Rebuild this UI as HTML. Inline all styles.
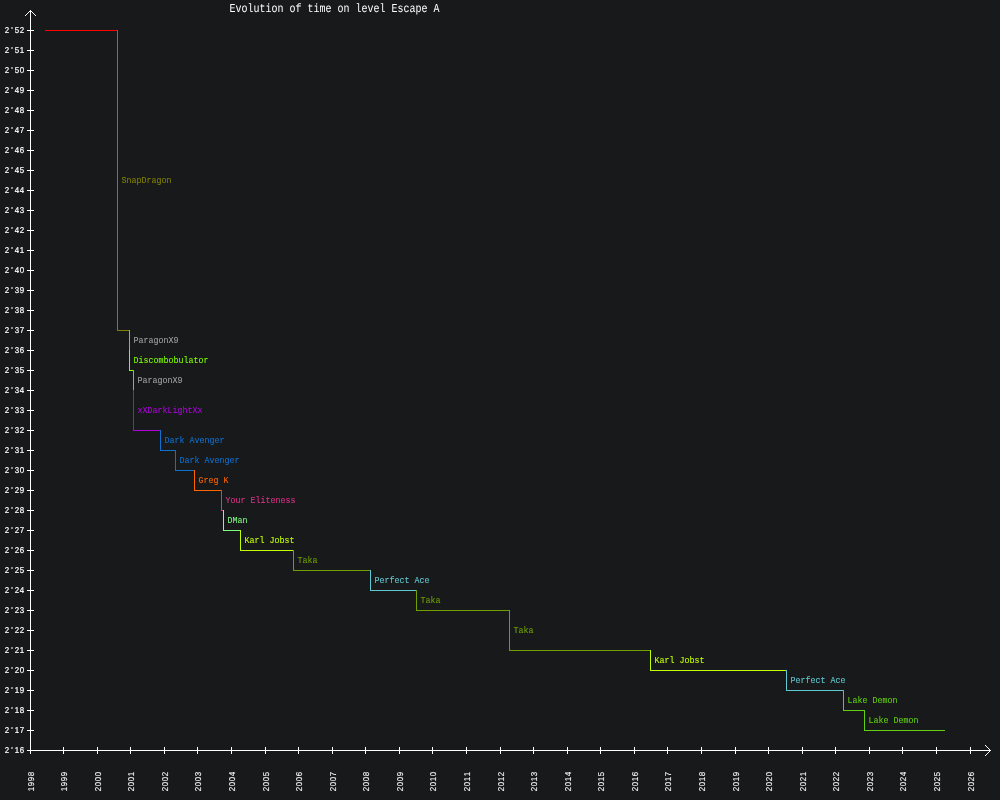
<!DOCTYPE html>
<html lang="en"><head><meta charset="utf-8">
<title>Evolution of time on level Escape A</title>
<style>
html,body{margin:0;padding:0;background:#18191b;}
body{width:1000px;height:800px;overflow:hidden;}
svg{display:block;}
.ln{shape-rendering:crispEdges;}
.s{font-family:"Liberation Mono", "DejaVu Sans Mono", monospace;font-size:9.2px;font-weight:normal;}
.t{font-family:"Liberation Mono", "DejaVu Sans Mono", monospace;font-size:12.1px;font-weight:normal;}
.n{font-family:"Liberation Sans", "DejaVu Sans", sans-serif;font-size:8.5px;text-anchor:middle;}
text{white-space:pre;stroke-width:0.1px;stroke-linejoin:round;}
.t,.n{text-rendering:geometricPrecision;}
.s{text-rendering:auto;}
.t{stroke-width:0px;}
#ylabels text{stroke-width:0.2px;}
</style></head><body>
<svg width="1000" height="800" viewBox="0 0 1000 800">
<rect x="0" y="0" width="1000" height="800" fill="#18191b"/>
<g id="axes">
<rect class="ln" x="30" y="10" width="1" height="741" fill="#fff"/>
<rect class="ln" x="30" y="750" width="961" height="1" fill="#fff"/>
<rect class="ln" x="29" y="11" width="1" height="1" fill="#fff"/>
<rect class="ln" x="31" y="11" width="1" height="1" fill="#fff"/>
<rect class="ln" x="989" y="749" width="1" height="1" fill="#fff"/>
<rect class="ln" x="989" y="751" width="1" height="1" fill="#fff"/>
<rect class="ln" x="28" y="12" width="1" height="1" fill="#fff"/>
<rect class="ln" x="32" y="12" width="1" height="1" fill="#fff"/>
<rect class="ln" x="988" y="748" width="1" height="1" fill="#fff"/>
<rect class="ln" x="988" y="752" width="1" height="1" fill="#fff"/>
<rect class="ln" x="27" y="13" width="1" height="1" fill="#fff"/>
<rect class="ln" x="33" y="13" width="1" height="1" fill="#fff"/>
<rect class="ln" x="987" y="747" width="1" height="1" fill="#fff"/>
<rect class="ln" x="987" y="753" width="1" height="1" fill="#fff"/>
<rect class="ln" x="26" y="14" width="1" height="1" fill="#fff"/>
<rect class="ln" x="34" y="14" width="1" height="1" fill="#fff"/>
<rect class="ln" x="986" y="746" width="1" height="1" fill="#fff"/>
<rect class="ln" x="986" y="754" width="1" height="1" fill="#fff"/>
<rect class="ln" x="25" y="15" width="1" height="1" fill="#fff"/>
<rect class="ln" x="35" y="15" width="1" height="1" fill="#fff"/>
<rect class="ln" x="985" y="745" width="1" height="1" fill="#fff"/>
<rect class="ln" x="985" y="755" width="1" height="1" fill="#fff"/>
<rect class="ln" x="27" y="30" width="7" height="1" fill="#fff"/>
<rect class="ln" x="27" y="50" width="7" height="1" fill="#fff"/>
<rect class="ln" x="27" y="70" width="7" height="1" fill="#fff"/>
<rect class="ln" x="27" y="90" width="7" height="1" fill="#fff"/>
<rect class="ln" x="27" y="110" width="7" height="1" fill="#fff"/>
<rect class="ln" x="27" y="130" width="7" height="1" fill="#fff"/>
<rect class="ln" x="27" y="150" width="7" height="1" fill="#fff"/>
<rect class="ln" x="27" y="170" width="7" height="1" fill="#fff"/>
<rect class="ln" x="27" y="190" width="7" height="1" fill="#fff"/>
<rect class="ln" x="27" y="210" width="7" height="1" fill="#fff"/>
<rect class="ln" x="27" y="230" width="7" height="1" fill="#fff"/>
<rect class="ln" x="27" y="250" width="7" height="1" fill="#fff"/>
<rect class="ln" x="27" y="270" width="7" height="1" fill="#fff"/>
<rect class="ln" x="27" y="290" width="7" height="1" fill="#fff"/>
<rect class="ln" x="27" y="310" width="7" height="1" fill="#fff"/>
<rect class="ln" x="27" y="330" width="7" height="1" fill="#fff"/>
<rect class="ln" x="27" y="350" width="7" height="1" fill="#fff"/>
<rect class="ln" x="27" y="370" width="7" height="1" fill="#fff"/>
<rect class="ln" x="27" y="390" width="7" height="1" fill="#fff"/>
<rect class="ln" x="27" y="410" width="7" height="1" fill="#fff"/>
<rect class="ln" x="27" y="430" width="7" height="1" fill="#fff"/>
<rect class="ln" x="27" y="450" width="7" height="1" fill="#fff"/>
<rect class="ln" x="27" y="470" width="7" height="1" fill="#fff"/>
<rect class="ln" x="27" y="490" width="7" height="1" fill="#fff"/>
<rect class="ln" x="27" y="510" width="7" height="1" fill="#fff"/>
<rect class="ln" x="27" y="530" width="7" height="1" fill="#fff"/>
<rect class="ln" x="27" y="550" width="7" height="1" fill="#fff"/>
<rect class="ln" x="27" y="570" width="7" height="1" fill="#fff"/>
<rect class="ln" x="27" y="590" width="7" height="1" fill="#fff"/>
<rect class="ln" x="27" y="610" width="7" height="1" fill="#fff"/>
<rect class="ln" x="27" y="630" width="7" height="1" fill="#fff"/>
<rect class="ln" x="27" y="650" width="7" height="1" fill="#fff"/>
<rect class="ln" x="27" y="670" width="7" height="1" fill="#fff"/>
<rect class="ln" x="27" y="690" width="7" height="1" fill="#fff"/>
<rect class="ln" x="27" y="710" width="7" height="1" fill="#fff"/>
<rect class="ln" x="27" y="730" width="7" height="1" fill="#fff"/>
<rect class="ln" x="27" y="750" width="7" height="1" fill="#fff"/>
<rect class="ln" x="30" y="747" width="1" height="7" fill="#fff"/>
<rect class="ln" x="63" y="747" width="1" height="7" fill="#fff"/>
<rect class="ln" x="97" y="747" width="1" height="7" fill="#fff"/>
<rect class="ln" x="130" y="747" width="1" height="7" fill="#fff"/>
<rect class="ln" x="164" y="747" width="1" height="7" fill="#fff"/>
<rect class="ln" x="197" y="747" width="1" height="7" fill="#fff"/>
<rect class="ln" x="231" y="747" width="1" height="7" fill="#fff"/>
<rect class="ln" x="265" y="747" width="1" height="7" fill="#fff"/>
<rect class="ln" x="298" y="747" width="1" height="7" fill="#fff"/>
<rect class="ln" x="332" y="747" width="1" height="7" fill="#fff"/>
<rect class="ln" x="365" y="747" width="1" height="7" fill="#fff"/>
<rect class="ln" x="399" y="747" width="1" height="7" fill="#fff"/>
<rect class="ln" x="432" y="747" width="1" height="7" fill="#fff"/>
<rect class="ln" x="466" y="747" width="1" height="7" fill="#fff"/>
<rect class="ln" x="500" y="747" width="1" height="7" fill="#fff"/>
<rect class="ln" x="533" y="747" width="1" height="7" fill="#fff"/>
<rect class="ln" x="567" y="747" width="1" height="7" fill="#fff"/>
<rect class="ln" x="600" y="747" width="1" height="7" fill="#fff"/>
<rect class="ln" x="634" y="747" width="1" height="7" fill="#fff"/>
<rect class="ln" x="667" y="747" width="1" height="7" fill="#fff"/>
<rect class="ln" x="701" y="747" width="1" height="7" fill="#fff"/>
<rect class="ln" x="735" y="747" width="1" height="7" fill="#fff"/>
<rect class="ln" x="768" y="747" width="1" height="7" fill="#fff"/>
<rect class="ln" x="802" y="747" width="1" height="7" fill="#fff"/>
<rect class="ln" x="835" y="747" width="1" height="7" fill="#fff"/>
<rect class="ln" x="869" y="747" width="1" height="7" fill="#fff"/>
<rect class="ln" x="902" y="747" width="1" height="7" fill="#fff"/>
<rect class="ln" x="936" y="747" width="1" height="7" fill="#fff"/>
<rect class="ln" x="970" y="747" width="1" height="7" fill="#fff"/>
</g>
<g id="ylabels">
<text class="n" fill="#fff" stroke="#fff" transform="translate(4,32.85) scale(0.9300,1)" x="3.226 8.602 13.978 19.355">2'52</text>
<text class="n" fill="#fff" stroke="#fff" transform="translate(4,52.85) scale(0.9300,1)" x="3.226 8.602 13.978 19.355">2'51</text>
<text class="n" fill="#fff" stroke="#fff" transform="translate(4,72.85) scale(0.9300,1)" x="3.226 8.602 13.978 19.355">2'50</text>
<text class="n" fill="#fff" stroke="#fff" transform="translate(4,92.85) scale(0.9300,1)" x="3.226 8.602 13.978 19.355">2'49</text>
<text class="n" fill="#fff" stroke="#fff" transform="translate(4,112.85) scale(0.9300,1)" x="3.226 8.602 13.978 19.355">2'48</text>
<text class="n" fill="#fff" stroke="#fff" transform="translate(4,132.85) scale(0.9300,1)" x="3.226 8.602 13.978 19.355">2'47</text>
<text class="n" fill="#fff" stroke="#fff" transform="translate(4,152.85) scale(0.9300,1)" x="3.226 8.602 13.978 19.355">2'46</text>
<text class="n" fill="#fff" stroke="#fff" transform="translate(4,172.85) scale(0.9300,1)" x="3.226 8.602 13.978 19.355">2'45</text>
<text class="n" fill="#fff" stroke="#fff" transform="translate(4,192.85) scale(0.9300,1)" x="3.226 8.602 13.978 19.355">2'44</text>
<text class="n" fill="#fff" stroke="#fff" transform="translate(4,212.85) scale(0.9300,1)" x="3.226 8.602 13.978 19.355">2'43</text>
<text class="n" fill="#fff" stroke="#fff" transform="translate(4,232.85) scale(0.9300,1)" x="3.226 8.602 13.978 19.355">2'42</text>
<text class="n" fill="#fff" stroke="#fff" transform="translate(4,252.85) scale(0.9300,1)" x="3.226 8.602 13.978 19.355">2'41</text>
<text class="n" fill="#fff" stroke="#fff" transform="translate(4,272.85) scale(0.9300,1)" x="3.226 8.602 13.978 19.355">2'40</text>
<text class="n" fill="#fff" stroke="#fff" transform="translate(4,292.85) scale(0.9300,1)" x="3.226 8.602 13.978 19.355">2'39</text>
<text class="n" fill="#fff" stroke="#fff" transform="translate(4,312.85) scale(0.9300,1)" x="3.226 8.602 13.978 19.355">2'38</text>
<text class="n" fill="#fff" stroke="#fff" transform="translate(4,332.85) scale(0.9300,1)" x="3.226 8.602 13.978 19.355">2'37</text>
<text class="n" fill="#fff" stroke="#fff" transform="translate(4,352.85) scale(0.9300,1)" x="3.226 8.602 13.978 19.355">2'36</text>
<text class="n" fill="#fff" stroke="#fff" transform="translate(4,372.85) scale(0.9300,1)" x="3.226 8.602 13.978 19.355">2'35</text>
<text class="n" fill="#fff" stroke="#fff" transform="translate(4,392.85) scale(0.9300,1)" x="3.226 8.602 13.978 19.355">2'34</text>
<text class="n" fill="#fff" stroke="#fff" transform="translate(4,412.85) scale(0.9300,1)" x="3.226 8.602 13.978 19.355">2'33</text>
<text class="n" fill="#fff" stroke="#fff" transform="translate(4,432.85) scale(0.9300,1)" x="3.226 8.602 13.978 19.355">2'32</text>
<text class="n" fill="#fff" stroke="#fff" transform="translate(4,452.85) scale(0.9300,1)" x="3.226 8.602 13.978 19.355">2'31</text>
<text class="n" fill="#fff" stroke="#fff" transform="translate(4,472.85) scale(0.9300,1)" x="3.226 8.602 13.978 19.355">2'30</text>
<text class="n" fill="#fff" stroke="#fff" transform="translate(4,492.85) scale(0.9300,1)" x="3.226 8.602 13.978 19.355">2'29</text>
<text class="n" fill="#fff" stroke="#fff" transform="translate(4,512.85) scale(0.9300,1)" x="3.226 8.602 13.978 19.355">2'28</text>
<text class="n" fill="#fff" stroke="#fff" transform="translate(4,532.85) scale(0.9300,1)" x="3.226 8.602 13.978 19.355">2'27</text>
<text class="n" fill="#fff" stroke="#fff" transform="translate(4,552.85) scale(0.9300,1)" x="3.226 8.602 13.978 19.355">2'26</text>
<text class="n" fill="#fff" stroke="#fff" transform="translate(4,572.85) scale(0.9300,1)" x="3.226 8.602 13.978 19.355">2'25</text>
<text class="n" fill="#fff" stroke="#fff" transform="translate(4,592.85) scale(0.9300,1)" x="3.226 8.602 13.978 19.355">2'24</text>
<text class="n" fill="#fff" stroke="#fff" transform="translate(4,612.85) scale(0.9300,1)" x="3.226 8.602 13.978 19.355">2'23</text>
<text class="n" fill="#fff" stroke="#fff" transform="translate(4,632.85) scale(0.9300,1)" x="3.226 8.602 13.978 19.355">2'22</text>
<text class="n" fill="#fff" stroke="#fff" transform="translate(4,652.85) scale(0.9300,1)" x="3.226 8.602 13.978 19.355">2'21</text>
<text class="n" fill="#fff" stroke="#fff" transform="translate(4,672.85) scale(0.9300,1)" x="3.226 8.602 13.978 19.355">2'20</text>
<text class="n" fill="#fff" stroke="#fff" transform="translate(4,692.85) scale(0.9300,1)" x="3.226 8.602 13.978 19.355">2'19</text>
<text class="n" fill="#fff" stroke="#fff" transform="translate(4,712.85) scale(0.9300,1)" x="3.226 8.602 13.978 19.355">2'18</text>
<text class="n" fill="#fff" stroke="#fff" transform="translate(4,732.85) scale(0.9300,1)" x="3.226 8.602 13.978 19.355">2'17</text>
<text class="n" fill="#fff" stroke="#fff" transform="translate(4,752.85) scale(0.9300,1)" x="3.226 8.602 13.978 19.355">2'16</text>
</g>
<g id="xlabels">
<text class="n" fill="#fff" stroke="#fff" transform="translate(33.7,792) rotate(-90) scale(0.9300,1)" x="3.226 8.602 13.978 19.355">1998</text>
<text class="n" fill="#fff" stroke="#fff" transform="translate(66.7,792) rotate(-90) scale(0.9300,1)" x="3.226 8.602 13.978 19.355">1999</text>
<text class="n" fill="#fff" stroke="#fff" transform="translate(100.7,792) rotate(-90) scale(0.9300,1)" x="3.226 8.602 13.978 19.355">2000</text>
<text class="n" fill="#fff" stroke="#fff" transform="translate(133.7,792) rotate(-90) scale(0.9300,1)" x="3.226 8.602 13.978 19.355">2001</text>
<text class="n" fill="#fff" stroke="#fff" transform="translate(167.7,792) rotate(-90) scale(0.9300,1)" x="3.226 8.602 13.978 19.355">2002</text>
<text class="n" fill="#fff" stroke="#fff" transform="translate(200.7,792) rotate(-90) scale(0.9300,1)" x="3.226 8.602 13.978 19.355">2003</text>
<text class="n" fill="#fff" stroke="#fff" transform="translate(234.7,792) rotate(-90) scale(0.9300,1)" x="3.226 8.602 13.978 19.355">2004</text>
<text class="n" fill="#fff" stroke="#fff" transform="translate(268.7,792) rotate(-90) scale(0.9300,1)" x="3.226 8.602 13.978 19.355">2005</text>
<text class="n" fill="#fff" stroke="#fff" transform="translate(301.7,792) rotate(-90) scale(0.9300,1)" x="3.226 8.602 13.978 19.355">2006</text>
<text class="n" fill="#fff" stroke="#fff" transform="translate(335.7,792) rotate(-90) scale(0.9300,1)" x="3.226 8.602 13.978 19.355">2007</text>
<text class="n" fill="#fff" stroke="#fff" transform="translate(368.7,792) rotate(-90) scale(0.9300,1)" x="3.226 8.602 13.978 19.355">2008</text>
<text class="n" fill="#fff" stroke="#fff" transform="translate(402.7,792) rotate(-90) scale(0.9300,1)" x="3.226 8.602 13.978 19.355">2009</text>
<text class="n" fill="#fff" stroke="#fff" transform="translate(435.7,792) rotate(-90) scale(0.9300,1)" x="3.226 8.602 13.978 19.355">2010</text>
<text class="n" fill="#fff" stroke="#fff" transform="translate(469.7,792) rotate(-90) scale(0.9300,1)" x="3.226 8.602 13.978 19.355">2011</text>
<text class="n" fill="#fff" stroke="#fff" transform="translate(503.7,792) rotate(-90) scale(0.9300,1)" x="3.226 8.602 13.978 19.355">2012</text>
<text class="n" fill="#fff" stroke="#fff" transform="translate(536.7,792) rotate(-90) scale(0.9300,1)" x="3.226 8.602 13.978 19.355">2013</text>
<text class="n" fill="#fff" stroke="#fff" transform="translate(570.7,792) rotate(-90) scale(0.9300,1)" x="3.226 8.602 13.978 19.355">2014</text>
<text class="n" fill="#fff" stroke="#fff" transform="translate(603.7,792) rotate(-90) scale(0.9300,1)" x="3.226 8.602 13.978 19.355">2015</text>
<text class="n" fill="#fff" stroke="#fff" transform="translate(637.7,792) rotate(-90) scale(0.9300,1)" x="3.226 8.602 13.978 19.355">2016</text>
<text class="n" fill="#fff" stroke="#fff" transform="translate(670.7,792) rotate(-90) scale(0.9300,1)" x="3.226 8.602 13.978 19.355">2017</text>
<text class="n" fill="#fff" stroke="#fff" transform="translate(704.7,792) rotate(-90) scale(0.9300,1)" x="3.226 8.602 13.978 19.355">2018</text>
<text class="n" fill="#fff" stroke="#fff" transform="translate(738.7,792) rotate(-90) scale(0.9300,1)" x="3.226 8.602 13.978 19.355">2019</text>
<text class="n" fill="#fff" stroke="#fff" transform="translate(771.7,792) rotate(-90) scale(0.9300,1)" x="3.226 8.602 13.978 19.355">2020</text>
<text class="n" fill="#fff" stroke="#fff" transform="translate(805.7,792) rotate(-90) scale(0.9300,1)" x="3.226 8.602 13.978 19.355">2021</text>
<text class="n" fill="#fff" stroke="#fff" transform="translate(838.7,792) rotate(-90) scale(0.9300,1)" x="3.226 8.602 13.978 19.355">2022</text>
<text class="n" fill="#fff" stroke="#fff" transform="translate(872.7,792) rotate(-90) scale(0.9300,1)" x="3.226 8.602 13.978 19.355">2023</text>
<text class="n" fill="#fff" stroke="#fff" transform="translate(905.7,792) rotate(-90) scale(0.9300,1)" x="3.226 8.602 13.978 19.355">2024</text>
<text class="n" fill="#fff" stroke="#fff" transform="translate(939.7,792) rotate(-90) scale(0.9300,1)" x="3.226 8.602 13.978 19.355">2025</text>
<text class="n" fill="#fff" stroke="#fff" transform="translate(973.7,792) rotate(-90) scale(0.9300,1)" x="3.226 8.602 13.978 19.355">2026</text>
</g>
<text class="t" fill="#fff" stroke="#fff" transform="translate(229.5,11.9) scale(0.8263,1)">Evolution of time on level Escape A</text>
<g id="data">
<rect class="ln" x="45" y="30" width="72" height="1" fill="#ff0000"/>
<rect class="ln" x="117" y="30" width="1" height="301" fill="#808000"/>
<rect class="ln" x="117" y="330" width="13" height="1" fill="#808000"/>
<rect class="ln" x="129" y="330" width="1" height="21" fill="#a0a0a0"/>
<rect class="ln" x="129" y="350" width="1" height="1" fill="#a0a0a0"/>
<rect class="ln" x="129" y="350" width="1" height="21" fill="#80ff00"/>
<rect class="ln" x="129" y="370" width="5" height="1" fill="#80ff00"/>
<rect class="ln" x="133" y="370" width="1" height="21" fill="#a0a0a0"/>
<rect class="ln" x="133" y="390" width="1" height="1" fill="#a0a0a0"/>
<rect class="ln" x="133" y="390" width="1" height="41" fill="#b000e0"/>
<rect class="ln" x="133" y="430" width="28" height="1" fill="#b000e0"/>
<rect class="ln" x="160" y="430" width="1" height="21" fill="#1070d0"/>
<rect class="ln" x="160" y="450" width="16" height="1" fill="#1070d0"/>
<rect class="ln" x="175" y="450" width="1" height="21" fill="#1070d0"/>
<rect class="ln" x="175" y="470" width="20" height="1" fill="#1070d0"/>
<rect class="ln" x="194" y="470" width="1" height="21" fill="#ff6600"/>
<rect class="ln" x="194" y="490" width="28" height="1" fill="#ff6600"/>
<rect class="ln" x="221" y="490" width="1" height="21" fill="#e0308a"/>
<rect class="ln" x="221" y="510" width="3" height="1" fill="#e0308a"/>
<rect class="ln" x="223" y="510" width="1" height="21" fill="#80ff80"/>
<rect class="ln" x="223" y="530" width="18" height="1" fill="#80ff80"/>
<rect class="ln" x="240" y="530" width="1" height="21" fill="#c0ff00"/>
<rect class="ln" x="240" y="550" width="54" height="1" fill="#c0ff00"/>
<rect class="ln" x="293" y="550" width="1" height="21" fill="#70a000"/>
<rect class="ln" x="293" y="570" width="78" height="1" fill="#70a000"/>
<rect class="ln" x="370" y="570" width="1" height="21" fill="#60c8d0"/>
<rect class="ln" x="370" y="590" width="47" height="1" fill="#60c8d0"/>
<rect class="ln" x="416" y="590" width="1" height="21" fill="#70a000"/>
<rect class="ln" x="416" y="610" width="94" height="1" fill="#70a000"/>
<rect class="ln" x="509" y="610" width="1" height="41" fill="#70a000"/>
<rect class="ln" x="509" y="650" width="142" height="1" fill="#70a000"/>
<rect class="ln" x="650" y="650" width="1" height="21" fill="#c0ff00"/>
<rect class="ln" x="650" y="670" width="137" height="1" fill="#c0ff00"/>
<rect class="ln" x="786" y="670" width="1" height="21" fill="#60c8d0"/>
<rect class="ln" x="786" y="690" width="58" height="1" fill="#60c8d0"/>
<rect class="ln" x="843" y="690" width="1" height="21" fill="#60d010"/>
<rect class="ln" x="843" y="710" width="22" height="1" fill="#60d010"/>
<rect class="ln" x="864" y="710" width="1" height="21" fill="#60d010"/>
<rect class="ln" x="864" y="730" width="81" height="1" fill="#60d010"/>
</g>
<g id="names">
<text class="s" fill="#808000" stroke="#808000" transform="translate(121.5,183) scale(0.9056,1)">SnapDragon</text>
<text class="s" fill="#a0a0a0" stroke="#a0a0a0" transform="translate(133.5,343) scale(0.9056,1)">ParagonX9</text>
<text class="s" fill="#80ff00" stroke="#80ff00" transform="translate(133.5,363) scale(0.9056,1)">Discombobulator</text>
<text class="s" fill="#a0a0a0" stroke="#a0a0a0" transform="translate(137.5,383) scale(0.9056,1)">ParagonX9</text>
<text class="s" fill="#b000e0" stroke="#b000e0" transform="translate(137.5,413) scale(0.9056,1)">xXDarkLightXx</text>
<text class="s" fill="#1070d0" stroke="#1070d0" transform="translate(164.5,443) scale(0.9056,1)">Dark Avenger</text>
<text class="s" fill="#1070d0" stroke="#1070d0" transform="translate(179.5,463) scale(0.9056,1)">Dark Avenger</text>
<text class="s" fill="#ff6600" stroke="#ff6600" transform="translate(198.5,483) scale(0.9056,1)">Greg K</text>
<text class="s" fill="#e0308a" stroke="#e0308a" transform="translate(225.5,503) scale(0.9056,1)">Your Eliteness</text>
<text class="s" fill="#80ff80" stroke="#80ff80" transform="translate(227.5,523) scale(0.9056,1)">DMan</text>
<text class="s" fill="#c0ff00" stroke="#c0ff00" transform="translate(244.5,543) scale(0.9056,1)">Karl Jobst</text>
<text class="s" fill="#70a000" stroke="#70a000" transform="translate(297.5,563) scale(0.9056,1)">Taka</text>
<text class="s" fill="#60c8d0" stroke="#60c8d0" transform="translate(374.5,583) scale(0.9056,1)">Perfect Ace</text>
<text class="s" fill="#70a000" stroke="#70a000" transform="translate(420.5,603) scale(0.9056,1)">Taka</text>
<text class="s" fill="#70a000" stroke="#70a000" transform="translate(513.5,633) scale(0.9056,1)">Taka</text>
<text class="s" fill="#c0ff00" stroke="#c0ff00" transform="translate(654.5,663) scale(0.9056,1)">Karl Jobst</text>
<text class="s" fill="#60c8d0" stroke="#60c8d0" transform="translate(790.5,683) scale(0.9056,1)">Perfect Ace</text>
<text class="s" fill="#60d010" stroke="#60d010" transform="translate(847.5,703) scale(0.9056,1)">Lake Demon</text>
<text class="s" fill="#60d010" stroke="#60d010" transform="translate(868.5,723) scale(0.9056,1)">Lake Demon</text>
</g>
</svg>
</body></html>
